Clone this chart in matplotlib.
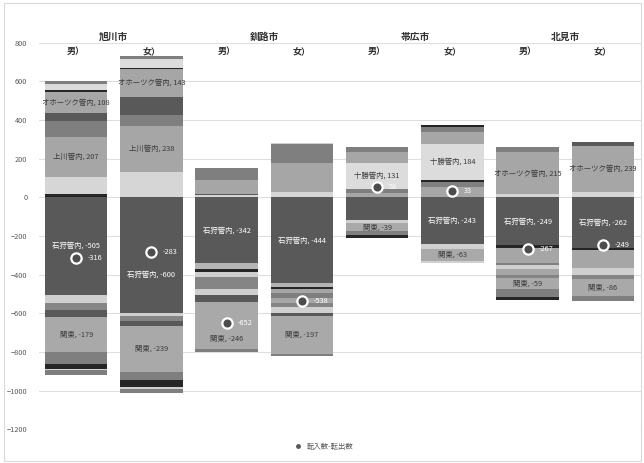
import numpy as np
import matplotlib.pyplot as plt
from matplotlib.lines import Line2D
from matplotlib.patches import Rectangle

plt.rcParams['font.family'] = ['Noto Sans CJK JP', 'DejaVu Sans']

cities = ['旭川市', '釧路市', '帯広市', '北見市']
sexes = ['男）', '女）']

# net movers (転入-転出) by origin, one value per bar:
# 旭川 男, 旭川 女, 釧路 男, 釧路 女, 帯広 男, 帯広 女, 北見 男, 北見 女
ishikari = [-505, -600, -342, -444, -117, -243, -249, -262]
oshima = [0, 0, -31, -21, 0, 0, 0, 0]
shiribeshi = [15, 0, -12, -10, 0, 0, -12, -11]
sorachi = [90, 133, 10, 30, 0, 0, 17, 29]
kamikawa = [207, 238, 0, -21, 23, 55, -79, -94]
rumoi = [85, 55, 0, -26, 22, 26, -12, 0]
soya = [40, 94, 5, 0, 0, 0, 0, 0]
okhotsk = [108, 143, 0, -26, 0, 0, 215, 239]
iburi = [8, 8, 0, 0, 0, 9, 0, 0]
hidaka = [-44, -14, -26, 0, 0, 0, -17, -35]
tokachi = [35, 45, 0, 0, 131, 184, 0, 0]
kushiro = [0, 0, 75, 145, 60, 66, -31, 0]
nemuro = [15, 15, 60, 100, 26, 25, 30, 0]
aomori = [-34, -24, -65, -21, 0, 0, -17, -22]
tohoku_etc = [0, 0, -30, -30, -18, -22, 0, 0]
tohoku_south = [-38, -27, -34, -14, 0, 0, 0, 20]
kanto = [-179, -239, -246, -197, -39, -63, -59, -86]
chubu = [-65, -41, -16, -11, -21, 0, -39, -27]
kinki = [-21, -38, 0, 0, -14, 9, -14, 0]
chugoku = [-10, -10, 0, 8, 0, -13, 0, 0]
kyushu = [-23, -21, 0, 0, 0, 0, 0, 0]

net = [-316, -283, -652, -538, 53, 33, -267, -249]

series = [
    ('石狩管内', ishikari, '#595959'),
    ('渡島管内', oshima, '#b4b4b4'),
    ('後志管内', shiribeshi, '#262626'),
    ('空知管内', sorachi, '#d6d6d6'),
    ('上川管内', kamikawa, '#a6a6a6'),
    ('留萌管内', rumoi, '#7f7f7f'),
    ('宗谷管内', soya, '#595959'),
    ('オホーツク管内', okhotsk, '#a6a6a6'),
    ('胆振管内', iburi, '#262626'),
    ('日高管内', hidaka, '#cfcfcf'),
    ('十勝管内', tokachi, '#dcdcdc'),
    ('釧路管内', kushiro, '#a6a6a6'),
    ('根室管内', nemuro, '#7f7f7f'),
    ('青森', aomori, '#858585'),
    ('東北', tohoku_etc, '#d0d0d0'),
    ('南東北', tohoku_south, '#595959'),
    ('関東', kanto, '#a9a9a9'),
    ('中部', chubu, '#7f7f7f'),
    ('近畿', kinki, '#262626'),
    ('中国', chugoku, '#d0d0d0'),
    ('九州', kyushu, '#7f7f7f'),
]

# which bars get a data label for each origin
labelled = {
    '石狩管内': [0, 1, 2, 3, 5, 6, 7],
    '上川管内': [0, 1],
    'オホーツク管内': [0, 1, 6, 7],
    '十勝管内': [4, 5],
    '関東': [0, 1, 2, 3, 4, 5, 6, 7],
}
# labels nudged away from the net marker
label_y = {('石狩管内', 1): -400, ('関東', 2): -730}

W, H = 644, 463
fig = plt.figure(figsize=(W / 100, H / 100), dpi=100)
ax = fig.add_axes([38.5 / W, 1 - 429.2 / H, 602 / W, (429.2 - 42.7) / H])

x = np.arange(8)
pos_base = np.zeros(8)
neg_base = np.zeros(8)
mids = {}
for name, vals, shade in series:
    v = np.array(vals, dtype=float)
    base = np.where(v >= 0, pos_base, neg_base)
    ax.bar(x, v, 0.83, bottom=base, color=shade, linewidth=0, zorder=2)
    mids[name] = (base + v / 2, v)
    pos_base += np.clip(v, 0, None)
    neg_base += np.clip(v, None, 0)

for name, bars in labelled.items():
    mid, v = mids[name]
    txt_color = 'white' if name == '石狩管内' else '#3a3a3a'
    for i in bars:
        y = label_y.get((name, i), mid[i])
        ax.text(x[i], y, f'{name}, {int(v[i])}', ha='center', va='center',
                fontsize=5.3, color=txt_color, zorder=4)

ax.scatter(x, net, s=55, facecolor='#4d4d4d', edgecolor='white',
           linewidths=1.6, zorder=5)
for i, n in enumerate(net):
    ax.text(x[i] + 0.15, n, f'{n}', ha='left', va='center', fontsize=5.3,
            color='white', zorder=6)

for k, c in enumerate(cities):
    ax.text(2 * k + 0.5, 832, c, ha='center', va='center', fontsize=7,
            fontweight='bold', color='#333333', clip_on=False)
for i in x:
    ax.text(i, 752, sexes[i % 2], ha='center', va='center', fontsize=6.5,
            fontweight='bold', color='#333333')

ax.set_xlim(-0.5, 7.5)
ax.set_ylim(-1200, 800)
ax.set_yticks(range(-1200, 801, 200))
ax.set_xticks([])
ax.tick_params(axis='y', length=0, pad=8, labelsize=5.3, labelcolor='#595959')
ax.grid(axis='y', color='#dedede', linewidth=0.8, zorder=0)
ax.set_axisbelow(True)
for s in ax.spines.values():
    s.set_visible(False)

handle = Line2D([], [], marker='o', linestyle='', color='#595959', markersize=2.5)
fig.legend([handle], ['転入数-転出数'], loc='center', bbox_to_anchor=(0.5, 1 - 447 / H),
           frameon=False, fontsize=5.3, handletextpad=0.1, labelcolor='#595959')

fig.patches.append(Rectangle((0.006, 0.004), 0.99, 0.99, transform=fig.transFigure,
                             fill=False, edgecolor='#d9d9d9', linewidth=0.8))

fig.savefig('out.png', dpi=100)
